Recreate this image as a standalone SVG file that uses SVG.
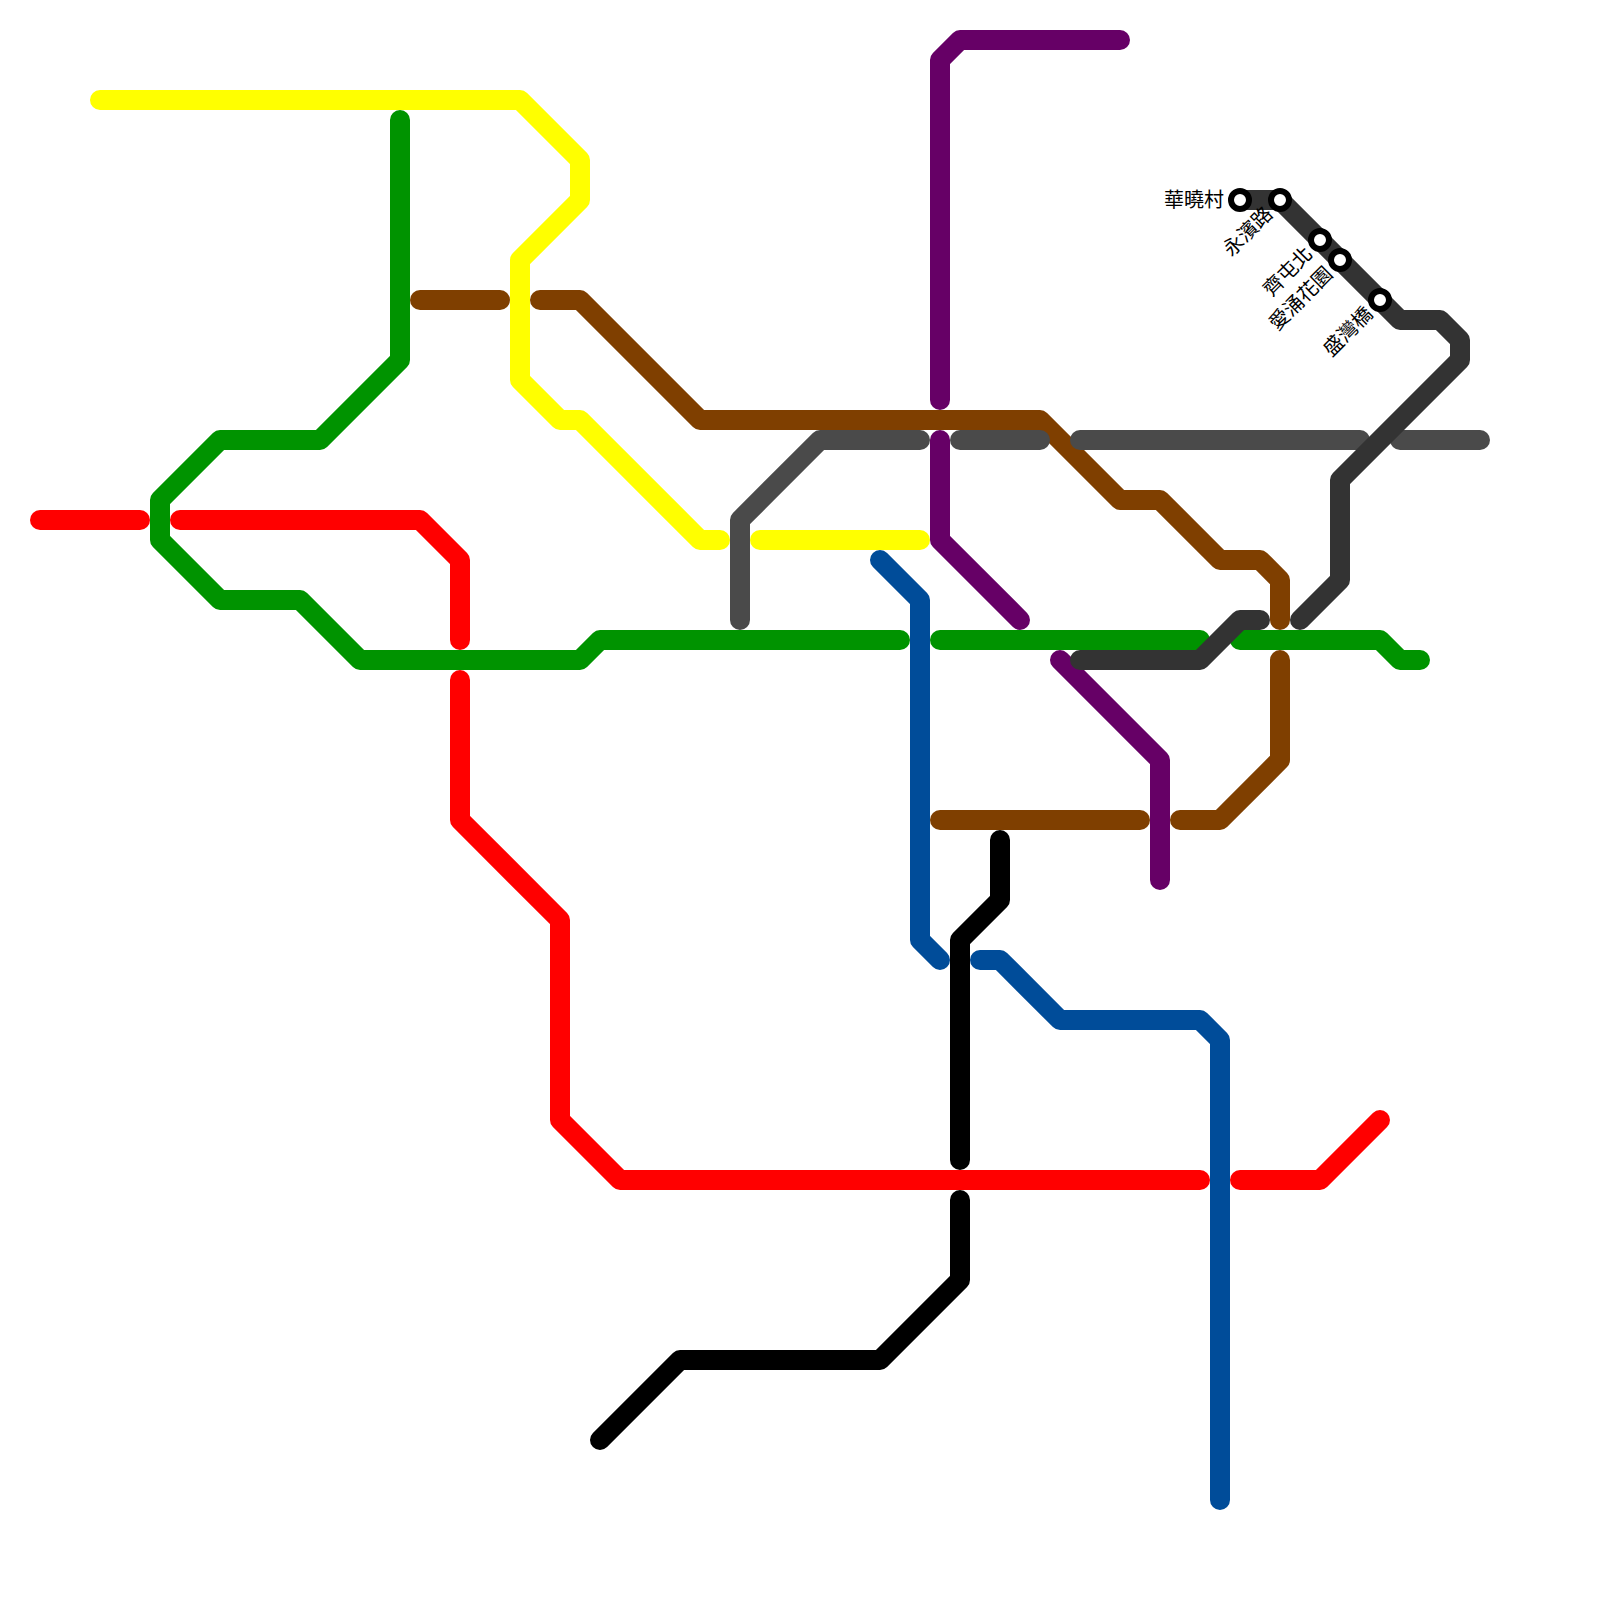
<svg xmlns="http://www.w3.org/2000/svg" width="1600" height="1600" viewBox="0 0 1600 1600">
<style>
.l{fill:none;stroke-width:20;stroke-linecap:round;stroke-linejoin:round}
.y{stroke:#ffff00}.g{stroke:#009300}.r{stroke:#ff0000}.b{stroke:#7f3f00}.p{stroke:#660066}.n{stroke:#4a4a4a}.d{stroke:#333333}.u{stroke:#004c99}.k{stroke:#000000}
.s{fill:#fff;stroke:#000;stroke-width:6}
text{font-family:"Noto Sans CJK TC","Noto Sans CJK SC",sans-serif;font-size:20px;fill:#000}
</style>
<rect width="1600" height="1600" fill="#fff"/>
<g id="connectors">
<g id="line-yellow"><path class="l y" d="M100 100H520L580 160V200L520 260V380L560 420H580L700 540H720"/><path class="l y" d="M760 540H920"/></g>
<g id="line-green"><path class="l g" d="M400 120V360L320 440H220L160 500V540L220 600H300L360 660H580L600 640H900"/><path class="l g" d="M940 640H1200"/><path class="l g" d="M1240 640H1380L1400 660H1420"/></g>
<g id="line-red"><path class="l r" d="M40 520H140"/><path class="l r" d="M180 520H420L460 560V640"/><path class="l r" d="M460 680V820L560 920V1120L620 1180H1200"/><path class="l r" d="M1240 1180H1320L1380 1120"/></g>
<g id="line-black"><path class="l k" d="M1000 840V900L960 940V1160"/><path class="l k" d="M960 1200V1280L880 1360H680L600 1440"/></g>
<g id="line-blue"><path class="l u" d="M880 560L920 600V940L940 960"/><path class="l u" d="M980 960H1000L1060 1020H1200L1220 1040V1500"/></g>
<g id="line-brown"><path class="l b" d="M420 300H500"/><path class="l b" d="M540 300H580L700 420H1040L1120 500H1160L1220 560H1260L1280 580V620"/><path class="l b" d="M1280 660V760L1220 820H1180"/><path class="l b" d="M940 820H1140"/></g>
<g id="line-purple"><path class="l p" d="M1120 40H960L940 60V400"/><path class="l p" d="M940 440V540L1020 620"/><path class="l p" d="M1060 660L1160 760V880"/></g>
<g id="line-grey"><path class="l n" d="M740 620V520L820 440H920"/><path class="l n" d="M960 440H1040"/><path class="l n" d="M1080 440H1360"/><path class="l n" d="M1400 440H1480"/></g>
<g id="line-dark"><path class="l d" d="M1240 200H1280L1400 320H1440L1460 340V360L1340 480V580L1300 620"/><path class="l d" d="M1260 620H1240L1200 660H1080"/></g>
</g>
<g id="st1"><circle class="s" cx="1240" cy="200" r="9"/><text x="1224" y="207" text-anchor="end">華曉村</text></g>
<g id="st2"><circle class="s" cx="1280" cy="200" r="9"/><text transform="translate(1274 215) rotate(-45)" text-anchor="end">永濱路</text></g>
<g id="st3"><circle class="s" cx="1320" cy="240" r="9"/><text transform="translate(1314 255) rotate(-45)" text-anchor="end">齊屯北</text></g>
<g id="st4"><circle class="s" cx="1340" cy="260" r="9"/><text transform="translate(1334 275) rotate(-45)" text-anchor="end">愛涌花園</text></g>
<g id="st5"><circle class="s" cx="1380" cy="300" r="9"/><text transform="translate(1374 315) rotate(-45)" text-anchor="end">盛灣橋</text></g>
</svg>
